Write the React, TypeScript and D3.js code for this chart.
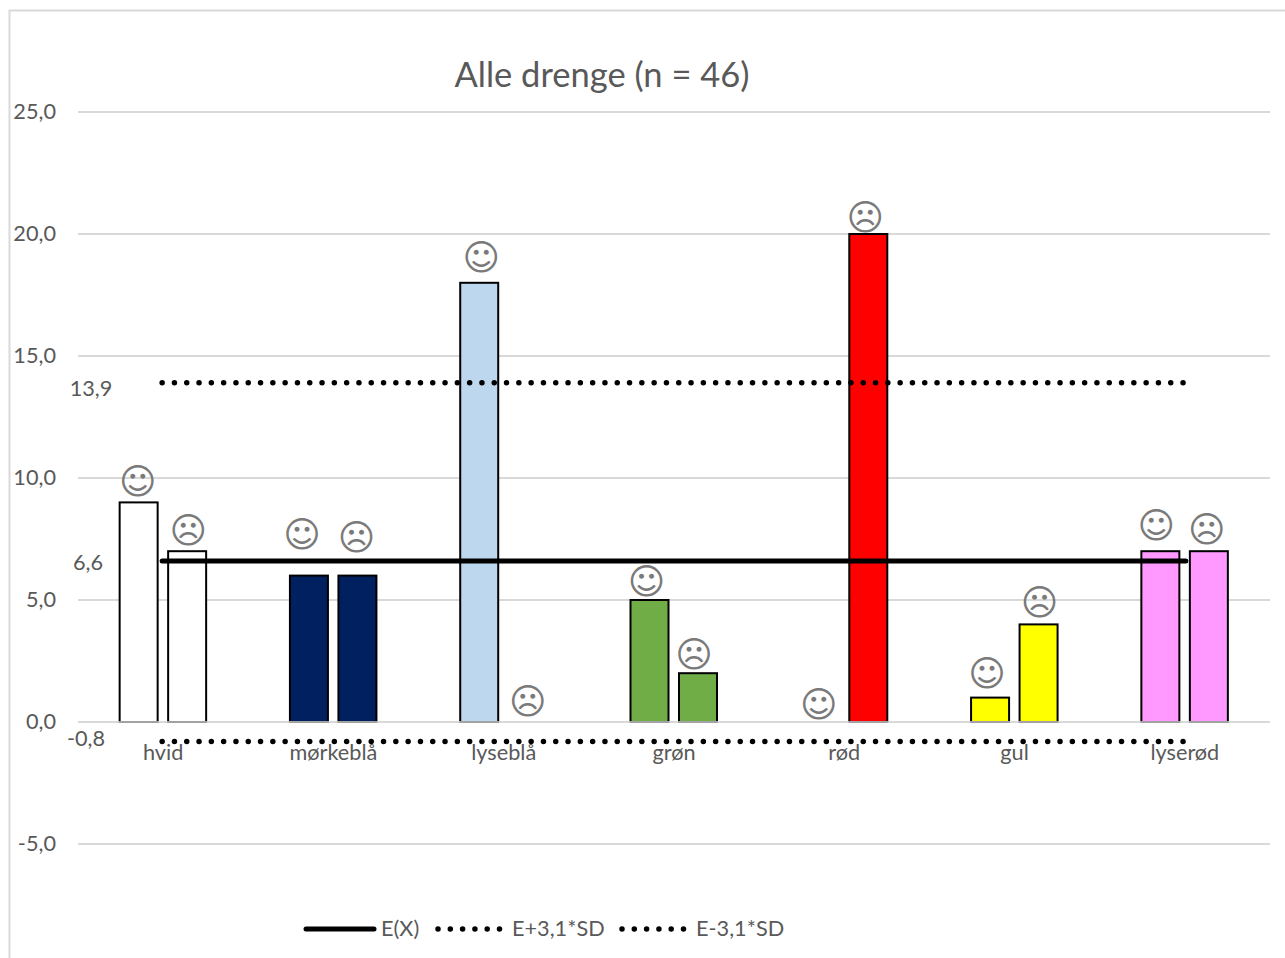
import React from "react";
import * as d3 from "d3";

const categories = ["hvid", "mørkeblå", "lyseblå", "grøn", "rød", "gul", "lyserød"];
const happyValues = [9, 6, 18, 5, 0, 1, 7];
const sadValues = [7, 6, 0, 2, 20, 4, 7];
const barColors = ["#ffffff", "#002060", "#bdd7ee", "#70ad47", "#ff0000", "#ffff00", "#ff99ff"];
const yTicks = [-5, 0, 5, 10, 15, 20, 25];
const meanValue = 6.6;
const upperValue = 13.9;
const lowerValue = -0.8;

const title = "Alle drenge (n = 46)";
const FONT = "Lato, 'Open Sans', sans-serif";
const TEXT = "#595959";
const GRID = "#d9d9d9";
const LABEL = 21.7;
const comma = (v: number) => v.toFixed(1).replace(".", ",");

// Hand placement of the smiley labels relative to the top of each bar.
const happyNudge: [number, number][] = [[-1, 21], [-7, 41], [2, 25], [-3, 19], [-1, 18], [-3, 24], [-4, 26]];
const sadNudge: [number, number][] = [[1, 21], [-1, 38], [0, 21], [-4, 19], [-3, 17], [1, 22], [-2, 22]];

const x = d3.scaleBand<string>().domain(categories).range([78, 1270]);
const y = d3.scaleLinear().domain([0, 25]).range([722, 112]);
const BAR_W = 38;
const GAP = 10;
const lineStart = x(categories[0])! + x.bandwidth() / 2 - 1;
const lineEnd = x(categories[6])! + x.bandwidth() / 2 + 1;
const dotted = { strokeDasharray: "0 12.3", strokeLinecap: "round" as const, strokeWidth: 5.5, stroke: "#000" };

function Face({ cx, cy, glyph }: { cx: number; cy: number; glyph: string }) {
  return (
    <text x={cx} y={cy} textAnchor="middle" dominantBaseline="central" fontFamily="'DejaVu Sans'" fontSize={36} fill="#7a7a7a">
      {glyph}
    </text>
  );
}

export default function App() {
  return (
    <svg width={1285} height={958} style={{ position: "fixed", left: 0, top: 0, background: "#fff" }} fontFamily={FONT}>
      <path d="M9.5,958V10.5H1285" fill="none" stroke={GRID} strokeWidth={2} />
      <text x={602} y={87} textAnchor="middle" fontSize={34.5} fill={TEXT}>{title}</text>

      {yTicks.map((t) => (
        <g key={t}>
          <line x1={78} x2={1270} y1={y(t)} y2={y(t)} stroke={GRID} strokeWidth={2} />
          <text x={56} y={y(t) + 7} textAnchor="end" fontSize={LABEL} fill={TEXT}>{comma(t)}</text>
        </g>
      ))}

      {categories.map((c, i) => {
        const mid = x(c)! + x.bandwidth() / 2;
        const hx = mid - GAP / 2 - BAR_W / 2 - 0.5;
        const sx = mid + GAP / 2 + BAR_W / 2;
        return (
          <g key={c}>
            {happyValues[i] > 0 && (
              <rect x={hx - BAR_W / 2} y={y(happyValues[i])} width={BAR_W} height={y(0) - y(happyValues[i])} fill={barColors[i]} stroke="#000" strokeWidth={2} />
            )}
            {sadValues[i] > 0 && (
              <rect x={sx - BAR_W / 2} y={y(sadValues[i])} width={BAR_W} height={y(0) - y(sadValues[i])} fill={barColors[i]} stroke="#000" strokeWidth={2} />
            )}
            <Face cx={hx + happyNudge[i][0]} cy={y(happyValues[i]) - happyNudge[i][1]} glyph="☺" />
            <Face cx={sx + sadNudge[i][0]} cy={y(sadValues[i]) - sadNudge[i][1]} glyph="☹" />
            <text x={mid} y={760} textAnchor="middle" fontSize={LABEL} fill={TEXT}>{c}</text>
          </g>
        );
      })}

      <line x1={78} x2={1270} y1={y(0)} y2={y(0)} stroke={GRID} strokeWidth={1.5} />

      <line x1={lineStart} x2={lineEnd} y1={y(meanValue)} y2={y(meanValue)} stroke="#000" strokeWidth={5} strokeLinecap="round" />
      <line x1={lineStart} x2={lineEnd} y1={y(upperValue)} y2={y(upperValue)} {...dotted} />
      <line x1={lineStart} x2={lineEnd} y1={y(lowerValue)} y2={y(lowerValue)} {...dotted} />

      <text x={88} y={570} textAnchor="middle" fontSize={LABEL} fill={TEXT}>{comma(meanValue)}</text>
      <text x={91} y={396} textAnchor="middle" fontSize={LABEL} fill={TEXT}>{comma(upperValue)}</text>
      <text x={86} y={746} textAnchor="middle" fontSize={LABEL} fill={TEXT}>{comma(lowerValue)}</text>

      <line x1={306} x2={374} y1={929} y2={929} stroke="#000" strokeWidth={5} strokeLinecap="round" />
      <text x={381} y={936} fontSize={LABEL} fill={TEXT}>E(X)</text>
      <line x1={438} x2={501} y1={929} y2={929} {...dotted} />
      <text x={512} y={936} fontSize={LABEL} fill={TEXT}>E+3,1*SD</text>
      <line x1={622} x2={685} y1={929} y2={929} {...dotted} />
      <text x={696} y={936} fontSize={LABEL} fill={TEXT}>E-3,1*SD</text>
    </svg>
  );
}
